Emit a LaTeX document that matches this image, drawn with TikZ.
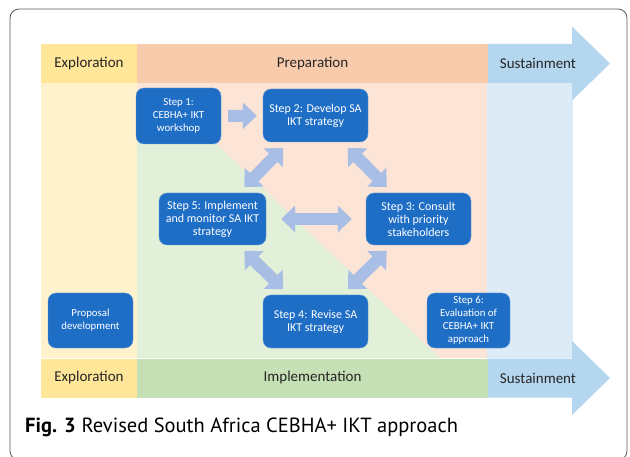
\documentclass[tikz,border=0pt]{standalone}
\usepackage{fontspec}
\setmainfont{Carlito}
\newfontfamily\capfont{PT Sans}
\usetikzlibrary{arrows.meta}
\definecolor{myellow}{HTML}{FFE699}
\definecolor{lyellow}{HTML}{FFF2CC}
\definecolor{morange}{HTML}{F8CBAD}
\definecolor{lorange}{HTML}{FCE4D6}
\definecolor{mgreen}{HTML}{C5E0B4}
\definecolor{lgreen}{HTML}{E2F0D9}
\definecolor{mblue}{HTML}{B4D6EE}
\definecolor{lblue}{HTML}{DDEBF7}
\definecolor{stepblue}{HTML}{1F6EC6}
\definecolor{flowblue}{HTML}{A9BEE4}
\tikzset{stepbox/.style = {draw=stepblue!70!white, fill=stepblue, rounded corners=8pt, text=white, align=center, inner sep=2pt, font=\fontsize{12}{13}\selectfont}}
\tikzset{smallstep/.style = {stepbox, font=\fontsize{10.8}{13}\selectfont}}
\tikzset{flow/.style = {draw=flowblue, line width=12pt, -{Triangle[length=14pt,width=26pt]}}}
\tikzset{flowboth/.style = {flow, {Triangle[length=14pt,width=26pt]}-{Triangle[length=14pt,width=26pt]}}}
\tikzset{phase/.style = {text=black!85, font=\fontsize{15}{16}\selectfont}}

\begin{document}
\begin{tikzpicture}[x=1pt, y=1pt]
      \useasboundingbox (0, 0) rectangle (630, 456);
      \draw [black!65, line width=0.8pt, rounded corners=9pt] (10, 447) rectangle (627, -4);

      % light backgrounds
      \fill [lyellow] (41, 373) rectangle (137, 98);
      \fill [lorange] (137, 373) rectangle (487, 98);
      \fill [lgreen] (137, 326) -- (202, 326) -- (440, 98) -- (137, 98) -- cycle;
      \fill [lblue] (487, 373) rectangle (573, 98);

      % phase arrows
      \foreach \y/\c in {392.5/morange, 78/mgreen} {
        \fill [mblue] (487, \y + 19.5) -- (572, \y + 19.5) -- (572, \y + 37) -- (610, \y)
          -- (572, \y - 37) -- (572, \y - 19.5) -- (487, \y - 19.5) -- cycle;
        \fill [myellow] (41, \y + 19.5) rectangle (137, \y - 19.5);
        \fill [\c] (137, \y + 19.5) rectangle (488, \y - 19.5);
      }
      \node [phase] (exp1) at (89, 392.5) {Exploration};
      \node [phase] (prep) at (312.5, 392.5) {Preparation};
      \node [phase] (sus1) at (538, 392.5) {Sustainment};
      \node [phase] (exp2) at (89, 78) {Exploration};
      \node [phase] (impl) at (312.5, 78) {Implementation};
      \node [phase] (sus2) at (538, 78) {Sustainment};

      % steps
      \node [smallstep, minimum width=85, minimum height=56] (s1) at (178.5, 340) {Step 1:\\CEBHA+ IKT\\workshop};
      \node [stepbox, minimum width=105, minimum height=53] (s2) at (315.5, 340.5) {Step 2: Develop SA\\IKT strategy};
      \node [stepbox, minimum width=105, minimum height=52] (s3) at (418.5, 237) {Step 3: Consult\\with priority\\stakeholders};
      \node [stepbox, minimum width=105, minimum height=53] (s4) at (315.5, 134.5) {Step 4: Revise SA\\IKT strategy};
      \node [stepbox, minimum width=107, minimum height=52] (s5) at (212.5, 237) {Step 5: Implement\\and monitor SA IKT\\strategy};
      \node [smallstep, minimum width=83, minimum height=55] (s6) at (468.5, 135.5) {Step 6:\\Evaluation of\\CEBHA+ IKT\\approach};
      \node [smallstep, minimum width=85, minimum height=55] (prop) at (90.5, 135.5) {Proposal\\development};

      \draw [flow, shorten <=7pt, shorten >=6pt] (s1) -- (s2);
      \draw [flowboth, shorten <=8pt, shorten >=8pt] (s2.225) -- (s5.45);
      \draw [flowboth, shorten <=8pt, shorten >=8pt] (s2.-45) -- (s3.135);
      \draw [flowboth, shorten <=15pt, shorten >=14pt] (s5.east) -- (s3.west);
      \draw [flowboth, shorten <=8pt, shorten >=8pt] (s5.-45) -- (s4.135);
      \draw [flowboth, shorten <=8pt, shorten >=8pt] (s3.225) -- (s4.45);

      \node [anchor=base west, inner sep=0, font=\capfont\fontsize{20.5}{22}\selectfont] (cap) at (25, 24)
        {\textbf{Fig. 3}\hspace{6pt}Revised South Africa CEBHA+ IKT approach};
\end{tikzpicture}
\end{document}
